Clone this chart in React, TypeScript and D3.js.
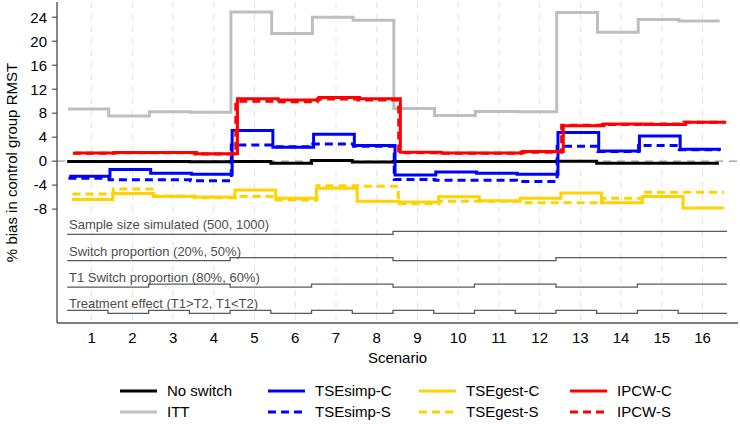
import React from 'react';
import * as d3 from 'd3';

// scenario index and y-axis ticks
const scenarios = [1, 2, 3, 4, 5, 6, 7, 8, 9, 10, 11, 12, 13, 14, 15, 16];
const yTicks = [-8, -4, 0, 4, 8, 12, 16, 20, 24];

// % bias in control group RMST per scenario
const noSwitch = [-0.05, -0.05, -0.05, -0.1, -0.05, -0.35, 0.1, -0.15, -0.05, -0.05, -0.05, -0.05, 0.0, -0.35, -0.35, -0.35];
const itt = [8.7, 7.55, 8.25, 8.15, 24.9, 21.3, 24.0, 23.5, 8.8, 7.6, 8.3, 8.25, 24.8, 21.5, 23.65, 23.4];
const tseSimpC = [-2.5, -1.4, -2.0, -2.2, 5.1, 2.3, 4.5, 2.6, -2.3, -1.8, -2.0, -2.2, 4.8, 1.7, 4.2, 2.0];
const tseSimpS = [-2.85, -3.1, -3.1, -3.25, 2.7, 2.4, 2.85, 2.5, -3.05, -3.2, -3.2, -3.4, 2.5, 1.6, 2.6, 1.9];
const tseGestC = [-6.4, -5.4, -5.9, -6.0, -4.8, -6.2, -4.5, -6.7, -6.8, -5.95, -6.6, -6.2, -5.3, -6.95, -5.9, -7.8];
const tseGestS = [-5.5, -4.65, -5.8, -6.1, -5.9, -6.5, -4.1, -4.2, -7.1, -6.7, -6.7, -6.95, -6.95, -6.2, -5.2, -5.2];
const ipcwC = [1.35, 1.45, 1.45, 1.25, 10.4, 10.2, 10.6, 10.4, 1.5, 1.35, 1.35, 1.6, 5.9, 6.2, 6.1, 6.5];
const ipcwS = [1.3, 1.4, 1.4, 1.2, 10.0, 9.9, 10.35, 10.2, 1.4, 1.3, 1.3, 1.5, 6.0, 6.1, 6.2, 6.5];

// simulation design factors (0 = first level, 1 = second level)
const factorLabels = [
  'Sample size simulated (500, 1000)',
  'Switch proportion (20%, 50%)',
  'T1 Switch proportion (80%, 60%)',
  'Treatment effect (T1>T2, T1<T2)',
];
const sampleSize = [0, 0, 0, 0, 0, 0, 0, 0, 1, 1, 1, 1, 1, 1, 1, 1];
const switchProp = [0, 0, 0, 0, 1, 1, 1, 1, 0, 0, 0, 0, 1, 1, 1, 1];
const t1Switch = [0, 0, 1, 1, 0, 0, 1, 1, 0, 0, 1, 1, 0, 0, 1, 1];
const treatEffect = [1, 0, 1, 0, 1, 0, 1, 0, 1, 0, 1, 0, 1, 0, 1, 0];
const factors = [sampleSize, switchProp, t1Switch, treatEffect];

type Series = { name: string; values: number[]; color: string; dash?: string; shift: number };

const DASH = '8,5';
const ittS: Series = { name: 'ITT', values: itt, color: '#bebebe', shift: -0.08 };
const noSwitchS: Series = { name: 'No switch', values: noSwitch, color: '#000000', shift: -0.1 };
const simpC: Series = { name: 'TSEsimp-C', values: tseSimpC, color: '#0000ff', shift: -0.05 };
const simpS: Series = { name: 'TSEsimp-S', values: tseSimpS, color: '#0000ff', dash: DASH, shift: -0.07 };
const gestC: Series = { name: 'TSEgest-C', values: tseGestC, color: '#ffd200', shift: 0.02 };
const gestS: Series = { name: 'TSEgest-S', values: tseGestS, color: '#ffd200', dash: DASH, shift: 0.03 };
const ipC: Series = { name: 'IPCW-C', values: ipcwC, color: '#ff0000', shift: 0.08 };
const ipS: Series = { name: 'IPCW-S', values: ipcwS, color: '#ff0000', dash: DASH, shift: 0.04 };

const drawOrder = [ittS, noSwitchS, gestS, gestC, simpC, simpS, ipC, ipS];
const legendRows = [
  [noSwitchS, simpC, gestC, ipC],
  [ittS, simpS, gestS, ipS],
];

const W = 740;
const H = 424;
const FONT = '"Liberation Sans", Arial, sans-serif';
const AXIS = '#555555';

const x = d3.scaleLinear().domain([0.15, 16.87]).range([57, 738]);
const y = d3.scaleLinear().domain([-27, 26.55]).range([323, 2]);

const stepLine = d3
  .line<[number, number]>()
  .x((d) => x(d[0]))
  .y((d) => y(d[1]))
  .curve(d3.curveStepAfter);

// each value holds from (s - before) to (s + after), shifted a little per method
function stepPoints(vals: number[], shift: number, before = 0.5, after = 0.5): [number, number][] {
  const pts: [number, number][] = vals.map((v, i) => [scenarios[i] - before + shift, v]);
  const last = vals.length - 1;
  pts.push([scenarios[last] + after + shift, vals[last]]);
  return pts;
}

const FACTOR_TOP = -12.2;
const FACTOR_GAP = 4.4;
const FACTOR_STEP = 0.5;

export default function App() {
  const [x0, x1] = x.range();
  const [yBottom, yTop] = y.range();
  const legendCols = [120, 268, 419, 570];
  const legendRowY = [391, 412];

  return (
    <svg
      width={W}
      height={H}
      style={{ position: 'absolute', left: 0, top: 0, background: '#fff' }}
      fontFamily={FONT}
    >
      {/* vertical dashed grid at each scenario */}
      {scenarios.map((s) => (
        <line
          key={'g' + s}
          x1={x(s)}
          x2={x(s)}
          y1={yTop}
          y2={yBottom}
          stroke="#e3e3e3"
          strokeWidth={1}
          strokeDasharray="6,6"
        />
      ))}

      {/* zero reference */}
      <line x1={x0} x2={x1} y1={y(0)} y2={y(0)} stroke="#999" strokeWidth={1.2} strokeDasharray="8,6" />

      {/* method lines */}
      {drawOrder.map((s) => (
        <path
          key={s.name}
          d={stepLine(stepPoints(s.values, s.shift)) || ''}
          fill="none"
          stroke={s.color}
          strokeWidth={3}
          strokeDasharray={s.dash}
        />
      ))}

      {/* design factor step lines */}
      {factors.map((f, k) => {
        const base = FACTOR_TOP - FACTOR_GAP * k;
        const vals = f.map((lv) => base + lv * FACTOR_STEP);
        return (
          <g key={'f' + k}>
            <path
              d={stepLine(stepPoints(vals, 0, 0.6, 0.6)) || ''}
              fill="none"
              stroke="#5a5a5a"
              strokeWidth={1.3}
            />
            <text x={69} y={y(base) - 5} fontSize={13} fill="#4d4d4d">
              {factorLabels[k]}
            </text>
          </g>
        );
      })}

      {/* axes */}
      <line x1={x0} x2={x0} y1={yTop} y2={yBottom} stroke={AXIS} strokeWidth={1.4} />
      <line x1={x0} x2={x1} y1={yBottom} y2={yBottom} stroke={AXIS} strokeWidth={1.4} />
      {yTicks.map((t) => (
        <g key={'yt' + t}>
          <line x1={x0 - 5} x2={x0} y1={y(t)} y2={y(t)} stroke={AXIS} strokeWidth={1.2} />
          <text x={47} y={y(t) + 5.3} fontSize={15} textAnchor="end" fill="#000">
            {t}
          </text>
        </g>
      ))}
      {scenarios.map((s) => (
        <text key={'xt' + s} x={x(s)} y={342.5} fontSize={15} textAnchor="middle" fill="#000">
          {s}
        </text>
      ))}
      <text x={(x0 + x1) / 2} y={363} fontSize={15} textAnchor="middle" fill="#000">
        Scenario
      </text>
      <text
        transform={`translate(17,${(yTop + yBottom) / 2}) rotate(-90)`}
        fontSize={15}
        textAnchor="middle"
        fill="#000"
      >
        % bias in control group RMST
      </text>

      {/* legend */}
      {legendRows.map((row, r) =>
        row.map((s, c) => (
          <g key={'lg' + s.name} transform={`translate(${legendCols[c]},${legendRowY[r]})`}>
            <line x1={0} x2={37} y1={0} y2={0} stroke={s.color} strokeWidth={3} strokeDasharray={s.dash} />
            <text x={47} y={5.3} fontSize={15} fill="#000">
              {s.name}
            </text>
          </g>
        ))
      )}
    </svg>
  );
}
